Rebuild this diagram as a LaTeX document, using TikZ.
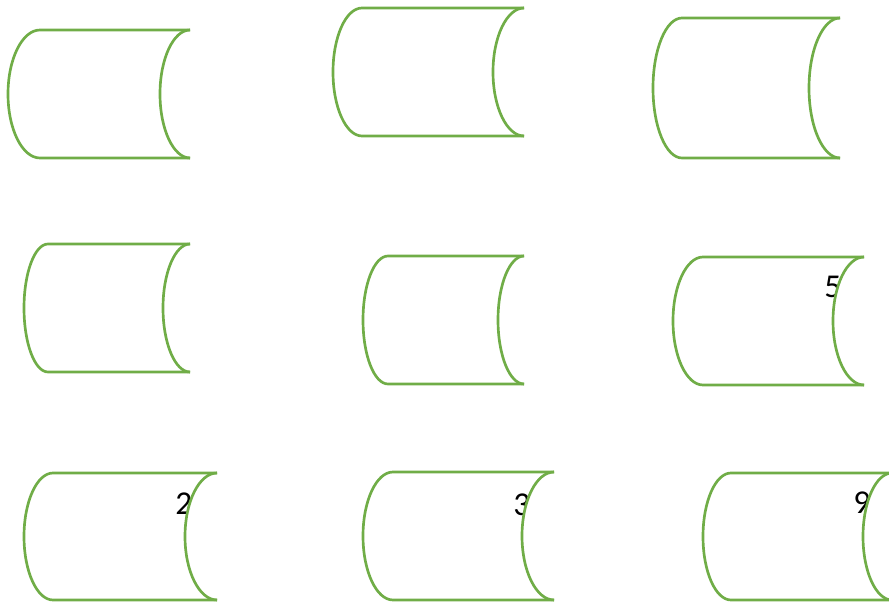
\documentclass[tikz,border=0pt]{standalone}
\usepackage{fontspec}
\setmainfont{Carlito}
\usepackage{tikz}
\definecolor{drumGreen}{HTML}{70AD47}
\tikzset{
  drumline/.style={draw=drumGreen, line width=2pt, line join=round},
  drumlabel/.style={anchor=base west, inner sep=0pt, font=\fontsize{25}{30}\selectfont}
}

\begin{document}
\begin{tikzpicture}[x=0.75pt, y=-0.75pt]
  \useasboundingbox (0,0) rectangle (889,602);
  % numbers sit behind the right caps, so they are drawn first
  \node[drumlabel] (num5) at (824,298) {5};
  \node[drumlabel] (num2) at (175,514) {2};
  \node[drumlabel] (num3) at (513,515) {3};
  \node[drumlabel] (num9) at (853,513) {9};
  % left/right/top/bottom, then radius of left side and right cap
  \foreach \l/\r/\t/\b/\rl/\rr in {
      40/190/30/158/32/30, 362/524/8/136/29/31, 682/840/18/158/29/31,
      48/190/244/372/24/27, 388/524/256/384/25/26, 703/864/257/385/30/31,
      53/217/473/600/29/32, 393/554/472/600/30/32, 731/892/473/600/28/29} {
    \fill[white] (\r,\t) arc[start angle=90, end angle=270, x radius=\rr*0.75pt, y radius=(\b-\t)*0.375pt] -- cycle;
    \draw[drumline] (\r,\t) -- (\l,\t)
      arc[start angle=90, end angle=270, x radius=\rl*0.75pt, y radius=(\b-\t)*0.375pt] -- (\r,\b);
    \draw[drumline] (\r,\t)
      arc[start angle=90, end angle=270, x radius=\rr*0.75pt, y radius=(\b-\t)*0.375pt];
  }
\end{tikzpicture}
\end{document}
